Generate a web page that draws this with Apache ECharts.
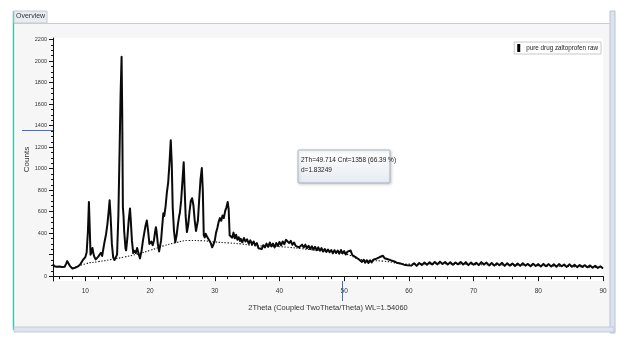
<!DOCTYPE html>
<html><head><meta charset="utf-8">
<script src="https://cdn.jsdelivr.net/npm/echarts@6/dist/echarts.min.js"></script>
<style>html,body{margin:0;padding:0;background:#fff}#c{width:627px;height:343px}</style>
</head><body><div id="c"></div>
<script>
const seriesName = 'pure drug zaltoprofen raw';
const xAxisTitle = '2Theta (Coupled TwoTheta/Theta) WL=1.54060';
const yAxisTitle = 'Counts';
const tabTitle = 'Overview';
const cursorAngle = 49.714;
const cursorCount = 1358;
const cursorText = ['2Th=49.714 Cnt=1358 (66.39 %)', 'd=1.83249'];
const xMajorTicks = [10,20,30,40,50,60,70,80,90];
const xMinorTicks = [6,8,12,14,16,18,22,24,26,28,32,34,36,38,42,44,46,48,52,54,56,58,62,64,66,68,72,74,76,78,82,84,86,88];
const yLabelTicks = [0,400,600,800,1000,1200,1400,1600,1800,2000,2200];
const yMajorTicks = [0,200,400,600,800,1000,1200,1400,1600,1800,2000,2200];
const yMinorTicks = [50,100,150,250,300,350,450,500,550,650,700,750,850,900,950,1050,1100,1150,1250,1300,1350,1450,1500,1550,1650,1700,1750,1850,1900,1950,2050,2100,2150];

// measured scan [2theta, counts]
const scanPoints = [
[5.0,112],[5.2,92],[5.4,108],[5.6,88],[5.8,104],[6.0,90],[6.2,108],[6.4,86],[6.6,100],[6.8,88],
[7.0,112],[7.2,140],[7.3,158],[7.4,118],[7.6,96],[7.8,78],[8.0,72],[8.2,62],[8.4,78],[8.6,66],
[8.8,88],[9.0,86],[9.2,108],[9.4,116],[9.6,148],[9.8,156],[10.0,178],[10.2,220],[10.4,420],[10.55,690],
[10.7,400],[10.8,200],[11.0,230],[11.1,262],[11.25,208],[11.4,178],[11.6,156],[11.8,148],[12.0,182],[12.2,166],
[12.4,218],[12.6,188],[12.8,262],[13.0,330],[13.2,390],[13.4,480],[13.6,600],[13.75,705],[13.9,560],[14.1,300],
[14.3,175],[14.5,150],[14.7,145],[14.9,200],[15.1,560],[15.3,1200],[15.45,1700],[15.6,2040],[15.7,1500],[15.8,640],
[15.9,560],[16.0,420],[16.2,260],[16.3,240],[16.5,360],[16.7,520],[16.9,630],[17.0,540],[17.2,330],[17.4,215],
[17.6,235],[17.8,215],[18.0,262],[18.1,250],[18.3,192],[18.45,165],[18.7,240],[18.9,330],[19.1,400],[19.3,470],
[19.5,518],[19.7,420],[19.9,300],[20.0,285],[20.2,322],[20.4,288],[20.6,332],[20.75,400],[20.9,455],[21.0,420],
[21.2,300],[21.4,230],[21.5,220],[21.7,330],[21.9,480],[22.05,585],[22.2,560],[22.4,650],[22.6,780],[22.8,870],
[23.0,1050],[23.2,1265],[23.35,1050],[23.5,640],[23.7,420],[23.9,315],[24.1,380],[24.3,480],[24.5,560],[24.6,585],
[24.8,700],[25.0,880],[25.2,1060],[25.35,800],[25.5,560],[25.7,410],[25.9,480],[26.1,600],[26.3,700],[26.5,725],
[26.7,660],[26.9,520],[27.1,420],[27.2,410],[27.4,520],[27.6,720],[27.8,900],[28.0,1005],[28.15,800],[28.3,380],
[28.45,360],[28.6,395],[28.8,368],[29.0,372],[29.2,328],[29.4,305],[29.6,268],[29.8,295],[30.0,330],[30.2,405],
[30.4,448],[30.6,505],[30.8,540],[31.0,515],[31.2,565],[31.4,540],[31.6,605],[31.8,640],[32.0,690],[32.15,620],
[32.3,380],[32.5,395],[32.7,358],[32.9,405],[33.1,352],[33.3,385],[33.5,338],[33.7,362],[33.9,328],
[34.0,348],[34.25,315],[34.5,355],[34.75,322],[35.0,343],[35.25,302],[35.5,333],[35.75,295],[36.0,323],[36.25,287],
[36.5,308],[36.75,259],[37.0,273],[37.25,252],[37.5,288],[37.75,267],[38.0,303],[38.25,272],[38.5,313],[38.75,277],
[39.0,303],[39.25,267],[39.5,308],[39.75,282],[40.0,318],[40.25,287],[40.5,323],[40.75,297],[41.0,338],[41.25,343],
[41.5,307],[41.75,328],[42.0,292],[42.25,313],[42.5,282],[42.75,298],[43.0,267],[43.25,262],[43.5,293],[43.75,267],
[44.0,293],[44.25,259],[44.5,283],[44.75,252],[45.0,278],[45.25,247],[45.5,273],[45.75,242],[46.0,268],[46.25,237],
[46.5,261],[46.75,229],[47.0,253],[47.25,225],[47.5,248],[47.75,222],[48.0,243],[48.25,212],[48.5,241],[48.75,215],
[49.0,238],[49.25,209],[49.5,243],[49.75,212],[50.0,233],[50.25,202],[50.5,228],[50.75,212],[51.0,238],[51.25,197],
[51.5,213],[51.75,177],[52.0,188],[52.25,157],[52.5,168],[52.75,132],[53.0,153],[53.25,125],[53.5,148],[53.75,122],
[54.0,148],[54.25,127],[54.5,153],[54.75,137],[55.0,163],[55.25,147],[55.5,178],[55.75,162],[56.0,190],[56.25,167],
[56.5,185],[56.75,157],[57.0,175],[57.25,147],[57.5,165],[57.75,137],[58.0,150],[58.25,122],[58.5,140],[58.75,117],
[59.0,135],[59.25,107],[59.5,125],[59.75,102],[60.0,120],
[60.4,98],[60.8,120],[61.2,96],[61.6,122],[62.0,103],[62.4,127],[62.8,106],[63.2,130],[63.6,108],[64.0,132],
[64.4,110],[64.8,134],[65.2,113],[65.6,132],[66.0,108],[66.4,130],[66.8,106],[67.2,127],[67.6,110],[68.0,132],
[68.4,108],[68.8,130],[69.2,103],[69.6,127],[70.0,106],[70.4,124],[70.8,103],[71.2,130],[71.6,108],[72.0,126],
[72.4,100],[72.8,122],[73.2,98],[73.6,120],[74.0,102],[74.4,124],[74.8,96],[75.2,120],[75.6,98],[76.0,118],
[76.4,94],[76.8,117],[77.2,96],[77.6,120],[78.0,98],[78.4,114],[78.8,92],[79.2,116],[79.6,94],[80.0,112],
[80.4,90],[80.8,114],[81.2,93],[81.6,112],[82.0,90],[82.4,110],[82.8,88],[83.2,112],[83.6,92],[84.0,108],
[84.4,86],[84.8,110],[85.2,88],[85.6,106],[86.0,84],[86.4,104],[86.8,86],[87.2,102],[87.6,82],[88.0,100],
[88.4,78],[88.8,97],[89.2,76],[89.6,92],[90.0,72]
];

// fitted background (dotted)
const backgroundPoints = [
[8,70],[10,115],[12,135],[14,155],[16,178],[18,205],[20,240],[22,280],[24,312],[26,332],[28,330],[30,318],
[32,310],[34,300],[36,285],[40,275],[45,245],[50,210],[53,150],[56,140],[60,112],[65,115],[70,108],[80,98],[90,80]
];

const narrow = "'Liberation Sans Narrow','Liberation Sans',Arial,sans-serif";
const chart = echarts.init(document.getElementById('c'), null, {renderer:'canvas'});
const axisCommon = {type:'value', min:5, max:90, splitLine:{show:false}};
const yCommon = {type:'value', min:-45, max:2215, splitLine:{show:false}};

const frame = [
  {type:'rect', z:-100, shape:{x:16, y:23, width:596, height:305}, style:{fill:'#f6f6f6'}, silent:true},
  {type:'line', z:100, shape:{x1:13.5, y1:11, x2:13.5, y2:330}, style:{stroke:'#3fbfae', lineWidth:1.5}},
  {type:'line', z:100, shape:{x1:14, y1:23.5, x2:612, y2:23.5}, style:{stroke:'#c9ced6', lineWidth:1}},
  {type:'rect', z:101, shape:{x:14, y:11, width:33, height:12}, style:{fill:'#e9ecf0', stroke:'#c4c9d0', lineWidth:1}},
  {type:'text', z:102, style:{x:16, y:12.5, text:tabTitle, fontSize:7, fill:'#333', fontFamily:narrow}},
  {type:'rect', z:100, shape:{x:610, y:11, width:5, height:322}, style:{fill:'#dde3ee', stroke:'#b9c2d3', lineWidth:1}},
  {type:'rect', z:100, shape:{x:14, y:327, width:600, height:5}, style:{fill:'#dfe5ef', stroke:'#c3cad8', lineWidth:1}}
];

chart.setOption({
  animation:false,
  backgroundColor:'#ffffff',
  grid:{left:53, right:24, top:38, bottom:62, show:true, backgroundColor:'#ffffff', borderWidth:0},
  legend:{
    data:[seriesName], right:26, top:42, icon:'rect', itemWidth:3, itemHeight:8, itemGap:2,
    borderColor:'#c8c8c8', borderWidth:1, padding:[2,3,2,3], backgroundColor:'#ffffff',
    textStyle:{fontSize:6.3, color:'#222', fontFamily:narrow, padding:[0,0,0,1]}
  },
  xAxis:[
    Object.assign({}, axisCommon, {
      name:xAxisTitle, nameLocation:'middle', nameGap:23, nameMoveOverlap:false,
      nameTextStyle:{fontSize:7.5, color:'#333', fontFamily:narrow},
      axisLine:{show:true, lineStyle:{color:'#111', width:1}},
      axisTick:{show:true, length:5, customValues:xMajorTicks, lineStyle:{color:'#111'}},
      axisLabel:{show:true, customValues:xMajorTicks, fontSize:6.5, color:'#333', margin:7, fontFamily:narrow}
    }),
    Object.assign({}, axisCommon, {
      position:'bottom',
      axisLine:{show:false},
      axisTick:{show:true, length:3, customValues:xMinorTicks, lineStyle:{color:'#111'}},
      axisLabel:{show:false}
    })
  ],
  yAxis:[
    Object.assign({}, yCommon, {
      name:yAxisTitle, nameLocation:'middle', nameGap:22, nameRotate:90, nameMoveOverlap:false,
      nameTextStyle:{fontSize:8, color:'#333', fontFamily:"'Liberation Sans',Arial,sans-serif"},
      axisLine:{show:true, lineStyle:{color:'#111', width:1}},
      axisTick:{show:true, length:4, customValues:yMajorTicks, lineStyle:{color:'#111'}},
      axisLabel:{show:true, customValues:yLabelTicks, fontSize:5.5, color:'#333', margin:6, fontFamily:narrow,
        formatter:function(v){return String(v);}}
    }),
    Object.assign({}, yCommon, {
      position:'left',
      axisLine:{show:false},
      axisTick:{show:true, length:2, customValues:yMinorTicks, lineStyle:{color:'#111'}},
      axisLabel:{show:false}
    })
  ],
  series:[
    {
      name:'background', type:'line', data:backgroundPoints, smooth:true, symbol:'none', z:1,
      lineStyle:{color:'#111', width:1.1, type:[1.3,1.7]}, silent:true
    },
    {
      name:seriesName, type:'line', data:scanPoints, symbol:'none', z:3,
      itemStyle:{color:'#000'},
      lineStyle:{color:'#0a0a0a', width:2, join:'round'}
    }
  ],
  graphic:frame
});

// cursor overlay, positioned from the data scales
const cp = chart.convertToPixel({xAxisIndex:0, yAxisIndex:0}, [cursorAngle, cursorCount]);
const origin = chart.convertToPixel({xAxisIndex:0, yAxisIndex:0}, [5, -45]);
chart.setOption({
  graphic:frame.concat([
    {type:'line', z:110, shape:{x1:22, y1:Math.round(cp[1])+0.5, x2:origin[0], y2:Math.round(cp[1])+0.5}, style:{stroke:'#3b6fd0', lineWidth:1}},
    {type:'line', z:110, shape:{x1:Math.round(cp[0])+0.5, y1:origin[1], x2:Math.round(cp[0])+0.5, y2:origin[1]+20}, style:{stroke:'#3b6fd0', lineWidth:1}},
    {type:'rect', z:120, shape:{x:298, y:150, width:92, height:33, r:1},
      style:{fill:new echarts.graphic.LinearGradient(0,0,0,1,[{offset:0,color:'#ffffff'},{offset:1,color:'#e6ebf2'}]),
        stroke:'#a9b3c2', lineWidth:1, shadowColor:'rgba(0,0,0,0.18)', shadowBlur:3, shadowOffsetX:1, shadowOffsetY:1}},
    {type:'text', z:121, style:{x:301, y:155, text:cursorText.join('\n'), fontSize:6.5, lineHeight:10, fill:'#222', fontFamily:narrow}}
  ])
});
</script>
</body></html>
